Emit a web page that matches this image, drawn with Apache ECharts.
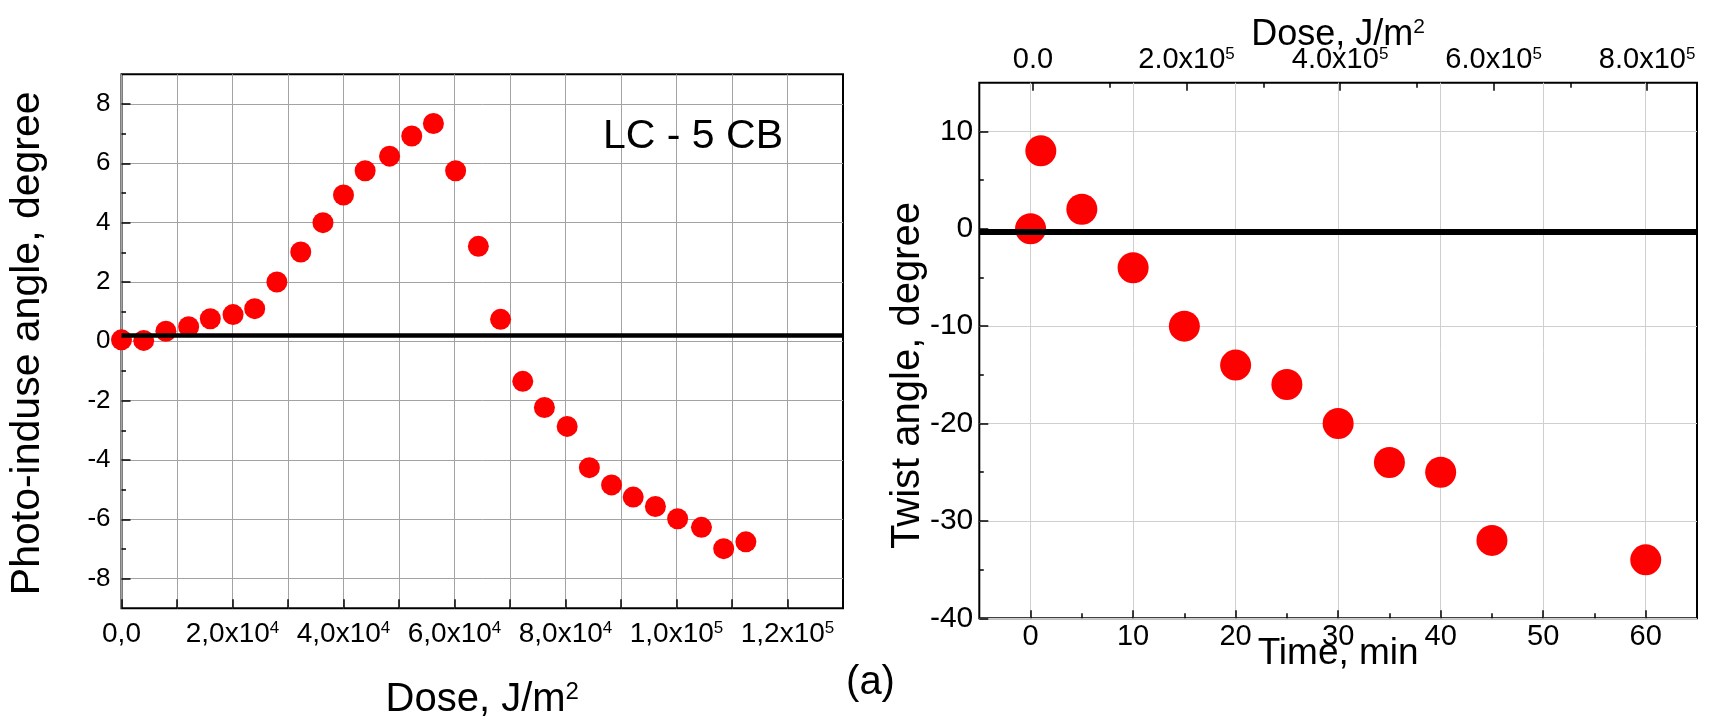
<!DOCTYPE html>
<html>
<head>
<meta charset="utf-8">
<script src="https://cdn.jsdelivr.net/npm/echarts@6/dist/echarts.min.js"></script>
<style>
  html, body { margin: 0; padding: 0; background: #ffffff; }
  #chart { width: 1711px; height: 725px; }
</style>
</head>
<body>
<div id="chart"></div>
<script>
// ---------- data: left panel (LC - 5 CB) ----------
const leftDose = [0, 4000, 8000, 12100, 16000, 20100, 24000, 28000, 32300, 36300,
  40000, 43900, 48300, 52300, 56200, 60200, 64300, 68300, 72300, 76200,
  80300, 84300, 88300, 92200, 96200, 100200, 104500, 108500, 112500];
const leftAngle = [0.05, 0.03, 0.34, 0.49, 0.76, 0.90, 1.10, 2.00, 3.01, 4.00,
  4.93, 5.75, 6.24, 6.92, 7.34, 5.75, 3.20, 0.74, -1.35, -2.23,
  -2.87, -4.26, -4.84, -5.25, -5.57, -5.98, -6.27, -6.99, -6.76];
const leftBaseline = [0.2];
const leftXLabelValues = [0, 20000, 40000, 60000, 80000, 100000, 120000];
const leftXLabelMant = ['0,0', '2,0x10', '4,0x10', '6,0x10', '8,0x10', '1,0x10', '1,2x10'];
const leftXLabelExp = ['', '4', '4', '4', '4', '5', '5'];
const leftXTickValues = [0, 10000, 20000, 30000, 40000, 50000, 60000, 70000, 80000, 90000, 100000, 110000, 120000];
const leftYLabelValues = [-8, -6, -4, -2, 0, 2, 4, 6, 8];
const leftYMinorTicks = [-7, -5, -3, -1, 1, 3, 5, 7];

// ---------- data: right panel (twist angle) ----------
const rightTime = [0, 1, 5, 10, 15, 20, 25, 30, 35, 40, 45, 60];
const rightTwist = [0, 8, 2, -4, -10, -14, -16, -20, -24, -25, -32, -34];
const rightBaseline = [-0.3];
const rightXLabelValues = [0, 10, 20, 30, 40, 50, 60];
const rightXMinorTicks = [5, 15, 25, 35, 45, 55];
const rightYLabelValues = [-40, -30, -20, -10, 0, 10];
const rightYMinorTicks = [-35, -25, -15, -5, 5];
const topDoseValues = [0, 200000, 400000, 600000, 800000];
const topDoseMant = ['0.0', '2.0x10', '4.0x10', '6.0x10', '8.0x10'];
const topDoseExp = ['', '5', '5', '5', '5'];
const topDoseMinorTicks = [100000, 300000, 500000, 700000];

const FONT = "'Liberation Sans', Arial, Helvetica, sans-serif";

function supLabel(values, mant, exp) {
  return function (v) {
    let idx = -1;
    for (let i = 0; i < values.length; i++) {
      if (Math.abs(values[i] - v) < 1e-6) { idx = i; break; }
    }
    if (idx < 0) return '';
    if (!exp[idx]) return '{m|' + mant[idx] + '}';
    return '{m|' + mant[idx] + '}{s|' + exp[idx] + '}';
  };
}

const chart = echarts.init(document.getElementById('chart'), null, { renderer: 'canvas' });

const tickStyle = { color: '#000', width: 1.5 };
const noLine = { show: false, onZero: false };

const option = {
  animation: false,
  backgroundColor: '#ffffff',
  textStyle: { fontFamily: FONT, color: '#000' },
  grid: [
    { left: 121.5, top: 74.3, width: 721.5, height: 534, show: true,
      borderColor: '#000', borderWidth: 2, backgroundColor: 'transparent',
      containLabel: false, outerBoundsMode: 'none' },
    { left: 979.3, top: 82.7, width: 717.7, height: 535.6, show: true,
      borderColor: '#000', borderWidth: 2, backgroundColor: 'transparent',
      containLabel: false, outerBoundsMode: 'none' }
  ],
  xAxis: [
    { // left bottom: dose
      gridIndex: 0, type: 'value', position: 'bottom',
      min: 0, max: 130000, interval: 20000,
      axisLine: noLine,
      axisTick: { show: true, inside: true, length: 9, lineStyle: tickStyle, customValues: leftXTickValues },
      minorTick: { show: false },
      splitLine: { show: true, lineStyle: { color: '#a3a3a3', width: 1 } },
      axisLabel: {
        customValues: leftXLabelValues, margin: 12, hideOverlap: false,
        formatter: supLabel(leftXLabelValues, leftXLabelMant, leftXLabelExp),
        rich: {
          m: { fontSize: 28, fontFamily: FONT, color: '#000', lineHeight: 28, verticalAlign: 'bottom' },
          s: { fontSize: 17, fontFamily: FONT, color: '#000', lineHeight: 17, verticalAlign: 'top', padding: [0, 0, 17, 0] }
        }
      },
      name: '{m|Dose, J/m}{s|2}', nameLocation: 'middle', nameGap: 72, nameMoveOverlap: false,
      nameTextStyle: {
        rich: {
          m: { fontSize: 40, fontFamily: FONT, color: '#000', lineHeight: 40, verticalAlign: 'bottom' },
          s: { fontSize: 24, fontFamily: FONT, color: '#000', lineHeight: 24, verticalAlign: 'top', padding: [0, 0, 23, 0] }
        }
      }
    },
    { // right bottom: time
      gridIndex: 1, type: 'value', position: 'bottom',
      min: -5, max: 65, splitNumber: 7,
      axisLine: noLine,
      axisTick: { show: true, inside: true, length: 8, lineStyle: tickStyle, customValues: rightXLabelValues },
      splitLine: { show: true, lineStyle: { color: '#cfcfcf', width: 1 } },
      axisLabel: { customValues: rightXLabelValues, margin: 4.5, fontSize: 29, fontFamily: FONT, color: '#000', hideOverlap: false },
      name: 'Time, min', nameLocation: 'middle', nameGap: 17, nameMoveOverlap: false,
      nameTextStyle: { fontSize: 37, fontFamily: FONT, color: '#000', lineHeight: 37 }
    },
    { // right bottom minor ticks
      gridIndex: 1, type: 'value', position: 'bottom',
      min: -5, max: 65,
      axisLine: noLine,
      axisTick: { show: true, inside: true, length: 5, lineStyle: tickStyle, customValues: rightXMinorTicks },
      splitLine: { show: false },
      axisLabel: { show: false }
    },
    { // right top: dose
      gridIndex: 1, type: 'value', position: 'top',
      min: -70000, max: 865000,
      axisLine: noLine,
      axisTick: { show: true, inside: true, length: 8, lineStyle: tickStyle, customValues: topDoseValues },
      splitLine: { show: false },
      axisLabel: {
        customValues: topDoseValues, margin: 37, verticalAlign: 'top', hideOverlap: false,
        formatter: supLabel(topDoseValues, topDoseMant, topDoseExp),
        rich: {
          m: { fontSize: 29, fontFamily: FONT, color: '#000', lineHeight: 29, verticalAlign: 'bottom' },
          s: { fontSize: 17, fontFamily: FONT, color: '#000', lineHeight: 17, verticalAlign: 'top', padding: [0, 0, 13, 0] }
        }
      },
      name: '{m|Dose, J/m}{s|2}', nameLocation: 'middle', nameGap: 29.5, nameMoveOverlap: false,
      nameTextStyle: {
        rich: {
          m: { fontSize: 36, fontFamily: FONT, color: '#000', lineHeight: 36, verticalAlign: 'bottom' },
          s: { fontSize: 21, fontFamily: FONT, color: '#000', lineHeight: 21, verticalAlign: 'top', padding: [0, 0, 23, 0] }
        }
      }
    },
    { // right top minor ticks
      gridIndex: 1, type: 'value', position: 'top',
      min: -70000, max: 865000,
      axisLine: noLine,
      axisTick: { show: true, inside: true, length: 5, lineStyle: tickStyle, customValues: topDoseMinorTicks },
      splitLine: { show: false },
      axisLabel: { show: false }
    }
  ],
  yAxis: [
    { // left: angle
      gridIndex: 0, type: 'value', position: 'left',
      min: -9, max: 9, splitNumber: 9,
      axisLine: noLine,
      axisTick: { show: true, inside: true, length: 9, lineStyle: tickStyle, customValues: leftYLabelValues },
      splitLine: { show: true, lineStyle: { color: '#a3a3a3', width: 1 } },
      axisLabel: { customValues: leftYLabelValues, margin: 11, fontSize: 26, fontFamily: FONT, color: '#000', hideOverlap: false },
      name: 'Photo-induse angle, degree', nameLocation: 'middle', nameRotate: 90, nameGap: 73, nameMoveOverlap: false,
      nameTextStyle: { fontSize: 41, fontFamily: FONT, color: '#000', lineHeight: 41, padding: [0, 4, 0, 0] }
    },
    { // left minor ticks
      gridIndex: 0, type: 'value', position: 'left',
      min: -9, max: 9,
      axisLine: noLine,
      axisTick: { show: true, inside: true, length: 4.5, lineStyle: tickStyle, customValues: leftYMinorTicks },
      splitLine: { show: false },
      axisLabel: { show: false }
    },
    { // right: twist angle
      gridIndex: 1, type: 'value', position: 'left',
      min: -40, max: 15, interval: 10,
      axisLine: noLine,
      axisTick: { show: true, inside: true, length: 9, lineStyle: tickStyle, customValues: rightYLabelValues },
      splitLine: { show: true, lineStyle: { color: '#cfcfcf', width: 1 } },
      axisLabel: { customValues: rightYLabelValues, margin: 6, fontSize: 30, fontFamily: FONT, color: '#000', hideOverlap: false },
      name: 'Twist angle, degree', nameLocation: 'middle', nameRotate: 90, nameGap: 51.5, nameMoveOverlap: false,
      nameTextStyle: { fontSize: 40, fontFamily: FONT, color: '#000', lineHeight: 40, padding: [0, 50, 0, 0] }
    },
    { // right minor ticks
      gridIndex: 1, type: 'value', position: 'left',
      min: -40, max: 15,
      axisLine: noLine,
      axisTick: { show: true, inside: true, length: 4.5, lineStyle: tickStyle, customValues: rightYMinorTicks },
      splitLine: { show: false },
      axisLabel: { show: false }
    }
  ],
  series: [
    {
      type: 'scatter', xAxisIndex: 0, yAxisIndex: 0,
      data: leftDose.map((d, i) => [d, leftAngle[i]]),
      symbol: 'circle', symbolSize: 21,
      itemStyle: { color: '#ff0000', opacity: 1 },
      z: 3,
      markLine: {
        silent: true, symbol: 'none', animation: false,
        label: { show: false },
        lineStyle: { color: '#000', width: 4.5, type: 'solid' },
        emphasis: { disabled: true },
        data: leftBaseline.map(v => ({ yAxis: v }))
      }
    },
    {
      type: 'scatter', xAxisIndex: 1, yAxisIndex: 2,
      data: rightTime.map((t, i) => [t, rightTwist[i]]),
      symbol: 'circle', symbolSize: 31,
      itemStyle: { color: '#ff0000', opacity: 1 },
      z: 3,
      markLine: {
        silent: true, symbol: 'none', animation: false,
        label: { show: false },
        lineStyle: { color: '#000', width: 6, type: 'solid' },
        emphasis: { disabled: true },
        data: rightBaseline.map(v => ({ yAxis: v }))
      }
    }
  ],
  graphic: [
    { type: 'text', x: 693, y: 137, z: 10,
      style: { text: 'LC - 5 CB', font: '41px ' + FONT, fill: '#000', textAlign: 'center', textVerticalAlign: 'middle', verticalAlign: 'middle' } },
    { type: 'text', x: 870.5, y: 683, z: 10,
      style: { text: '(a)', font: '40px ' + FONT, fill: '#000', textAlign: 'center', textVerticalAlign: 'middle', verticalAlign: 'middle' } }
  ]
};

chart.setOption(option);
</script>
</body>
</html>
